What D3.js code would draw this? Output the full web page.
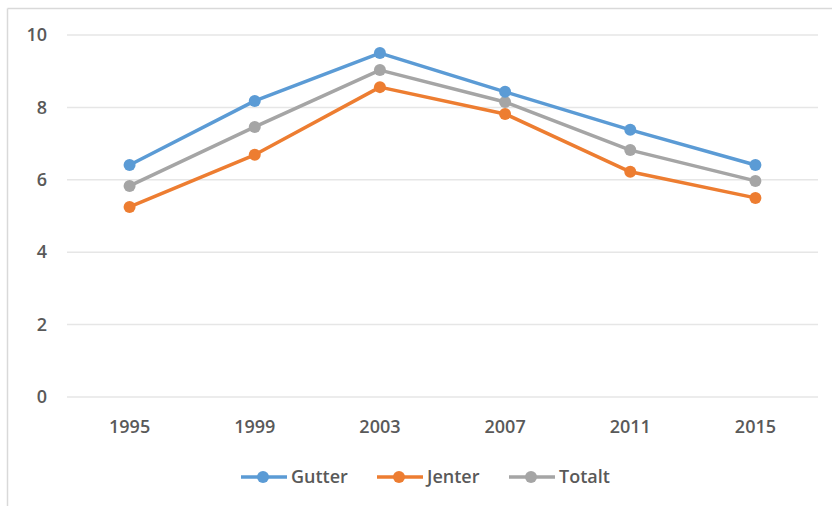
<!DOCTYPE html>
<html>
<head>
<meta charset="utf-8">
<script src="https://cdn.jsdelivr.net/npm/d3@7"></script>
<style>
  body { margin: 0; background: #fff; }
  svg { display: block; font-family: "Open Sans", "Liberation Sans", sans-serif; }
</style>
</head>
<body>
<svg id="chart" width="832" height="506"></svg>
<script>
var years = ["1995", "1999", "2003", "2007", "2011", "2015"];
var gutter = [6.41, 8.18, 9.50, 8.43, 7.38, 6.41];
var jenter = [5.25, 6.69, 8.56, 7.82, 6.22, 5.50];
var totalt = [5.83, 7.46, 9.03, 8.15, 6.82, 5.97];
var seriesNames = ["Gutter", "Jenter", "Totalt"];
var yTicks = [0, 2, 4, 6, 8, 10];

var colors = ["#5b9bd5", "#ed7d31", "#a5a5a5"];
var allSeries = [gutter, jenter, totalt];

var svg = d3.select("#chart");

// outer chart frame (only top and left are visible)
svg.append("line").attr("x1", 7.5).attr("x2", 832).attr("y1", 8.5).attr("y2", 8.5)
   .attr("stroke", "#d9d9d9").attr("stroke-width", 1.5);
svg.append("line").attr("x1", 7.5).attr("x2", 7.5).attr("y1", 8.5).attr("y2", 506)
   .attr("stroke", "#d9d9d9").attr("stroke-width", 1.5);

var xScale = d3.scaleBand()
  .domain(years)
  .range([67, 818]);

var yScale = d3.scaleLinear()
  .domain([0, 10])
  .range([397, 35]);

// gridlines
svg.append("g")
  .selectAll("line")
  .data(yTicks)
  .enter()
  .append("line")
  .attr("x1", 67)
  .attr("x2", 818)
  .attr("y1", function(d) { return yScale(d); })
  .attr("y2", function(d) { return yScale(d); })
  .attr("stroke", "#e6e6e6")
  .attr("stroke-width", 1.5);

// y axis labels
var yAxis = svg.append("g")
  .attr("transform", "translate(47,0)")
  .call(d3.axisLeft(yScale).tickValues(yTicks).tickSize(0).tickPadding(0));
yAxis.select(".domain").remove();
yAxis.selectAll("text")
  .attr("font-size", 18)
  .attr("font-weight", 600)
  .attr("font-family", "Open Sans, Liberation Sans, sans-serif")
  .attr("fill", "#595959");

// x axis labels
var xAxis = svg.append("g")
  .attr("transform", "translate(0,397)")
  .call(d3.axisBottom(xScale).tickSize(0).tickPadding(23));
xAxis.select(".domain").remove();
xAxis.selectAll("text")
  .attr("font-size", 18)
  .attr("font-weight", 600)
  .attr("font-family", "Open Sans, Liberation Sans, sans-serif")
  .attr("fill", "#595959");

var line = d3.line()
  .x(function(d, i) { return xScale(years[i]) + xScale.bandwidth() / 2; })
  .y(function(d) { return yScale(d); });

// draw gray first, then orange, then blue on top
[2, 1, 0].forEach(function(s) {
  var g = svg.append("g");
  g.append("path")
    .datum(allSeries[s])
    .attr("d", line)
    .attr("fill", "none")
    .attr("stroke", colors[s])
    .attr("stroke-width", 3.5)
    .attr("stroke-linejoin", "round");
  g.selectAll("circle")
    .data(allSeries[s])
    .enter()
    .append("circle")
    .attr("cx", function(d, i) { return xScale(years[i]) + xScale.bandwidth() / 2; })
    .attr("cy", function(d) { return yScale(d); })
    .attr("r", 6)
    .attr("fill", colors[s]);
});

// legend
var legendX = [241, 377, 509];
var legend = svg.append("g")
  .selectAll("g")
  .data(seriesNames)
  .enter()
  .append("g")
  .attr("transform", function(d, i) { return "translate(" + legendX[i] + ",477)"; });

legend.append("line")
  .attr("x1", 0).attr("x2", 46)
  .attr("stroke", function(d, i) { return colors[i]; })
  .attr("stroke-width", 3.5);
legend.append("circle")
  .attr("cx", 22).attr("r", 6)
  .attr("fill", function(d, i) { return colors[i]; });
legend.append("text")
  .attr("x", 50)
  .attr("dy", "0.35em")
  .attr("font-size", 18)
  .attr("font-weight", 600)
  .attr("fill", "#595959")
  .text(function(d) { return d; });
</script>
</body>
</html>
